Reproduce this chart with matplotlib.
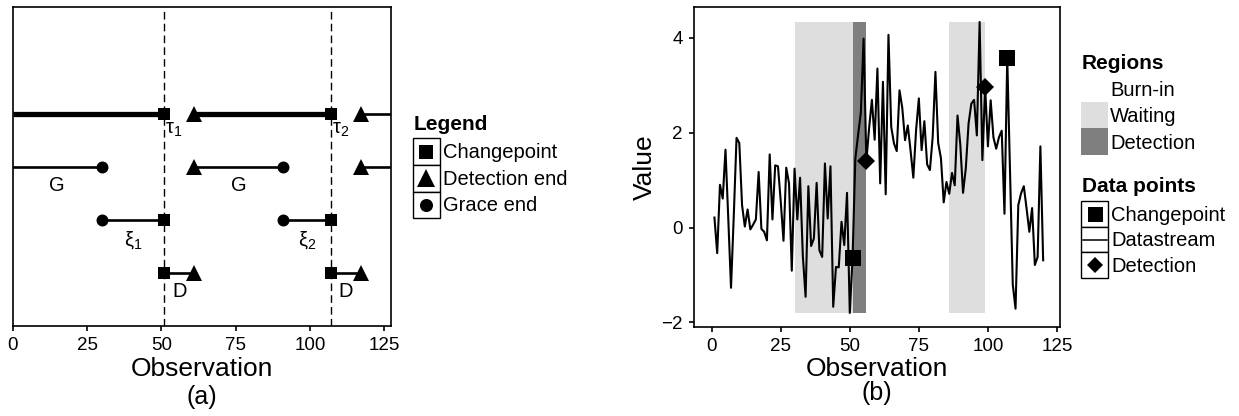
import numpy as np
import matplotlib
matplotlib.use("Agg")
import matplotlib.pyplot as plt
from matplotlib.patches import Rectangle

plt.rcParams['font.family'] = ['Liberation Sans', 'DejaVu Sans']
plt.rcParams['mathtext.fontset'] = 'custom'
plt.rcParams['mathtext.rm'] = 'Liberation Sans'
plt.rcParams['mathtext.it'] = 'Liberation Sans'

# ---- panel (a): schematic of changepoints / grace / detection ----
changepoints = [51, 107]
grace_ends = [30, 91]
detection_ends = [61, 117]
a_xmax = 127.1
row_burn, row_grace, row_xi, row_det = 4, 3, 2, 1

# ---- panel (b): the datastream ----
values = [0.21, -0.54, 0.90, 0.61, 1.64, 0.20, -1.27, 0.25, 1.89, 1.78,
          0.47, 0.02, 0.38, -0.04, 0.06, 0.17, 1.17, -0.03, -0.09, -0.27,
          1.54, 0.17, 1.31, 1.29, 0.55, -0.28, 1.26, 0.93, -0.91, 1.24,
          0.17, 1.05, -0.60, -1.46, 0.87, -0.39, -0.23, 0.94, -0.48, -0.62,
          1.35, 0.19, 1.29, -1.67, -0.83, -0.84, 0.12, -0.37, 0.73, -1.80,
          -0.65, 1.45, 1.95, 2.42, 3.98, 1.40, 2.10, 2.69, 1.85, 3.35,
          0.93, 3.07, 0.70, 4.06, 2.12, 1.77, 1.61, 2.89, 2.52, 1.84,
          2.15, 1.62, 1.05, 2.05, 2.72, 1.63, 2.24, 1.33, 1.21, 1.90,
          3.28, 1.78, 1.46, 0.53, 0.96, 0.71, 1.15, 0.89, 2.36, 1.75,
          0.73, 1.25, 2.19, 2.61, 2.69, 1.94, 4.33, 1.42, 2.97, 1.71,
          2.68, 1.90, 1.66, 1.90, 2.04, 0.29, 3.57, 1.20, -1.20, -1.71,
          0.47, 0.72, 0.87, 0.40, -0.09, 0.41, -0.79, -0.62, 1.71, -0.69]
obs = np.arange(1, len(values) + 1)
b_changepoints = [51, 107]
b_detections = [56, 99]
waiting = [(30, 51), (86, 99)]
detecting = [(51, 56)]

col_wait = '#dedede'
col_det = '#7f7f7f'

W, H = 1239, 416
fig = plt.figure(figsize=(W / 100, H / 100), dpi=100)


def frac(x0, y0, x1, y1):
    # pixel box (top-left origin) -> figure fraction rect
    return [x0 / W, 1 - y1 / H, (x1 - x0) / W, (y1 - y0) / H]


def style_axes(ax):
    for s in ax.spines.values():
        s.set_linewidth(1.2)
    ax.tick_params(direction='out', length=3.6, width=1.2, labelsize=13.5, pad=4.5)


# ================= panel a =================
axa = fig.add_axes(frac(12.7, 7.3, 390.7, 326))
style_axes(axa)
axa.set_xlim(0, a_xmax)
axa.set_ylim(0, 6)
axa.set_yticks([])
axa.set_xticks([0, 25, 50, 75, 100, 125])

for cp in changepoints:
    axa.axvline(cp, color='black', lw=1.0, ls=(0, (5.5, 3)), zorder=1)

ms_sq, ms_tri, ms_circ = 8.6, 11.5, 8.6
thin, thick = 1.9, 3.8
lab_off = 0.17

# row 1: burn-in / waiting (thick) between detections and changepoints
axa.plot([0, changepoints[0]], [row_burn] * 2, color='black', lw=thick, solid_capstyle='butt')
axa.plot([detection_ends[0], changepoints[1]], [row_burn] * 2, color='black', lw=thick, solid_capstyle='butt')
axa.plot([detection_ends[1], a_xmax], [row_burn] * 2, color='black', lw=thin, solid_capstyle='butt')
axa.plot(changepoints, [row_burn] * 2, 's', color='black', ms=ms_sq, mew=0)
axa.plot(detection_ends, [row_burn] * 2, '^', color='black', ms=ms_tri, mew=0)
for cp, lab in zip(changepoints, [r'$\mathregular{\tau_1}$', r'$\mathregular{\tau_2}$']):
    axa.text(cp + 0.3, row_burn - 0.12, lab, ha='left', va='top', fontsize=14.5)

# row 2: grace periods
axa.plot([0, grace_ends[0]], [row_grace] * 2, color='black', lw=thin)
axa.plot([detection_ends[0], grace_ends[1]], [row_grace] * 2, color='black', lw=thin)
axa.plot([detection_ends[1], a_xmax], [row_grace] * 2, color='black', lw=thin, solid_capstyle='butt')
axa.plot(grace_ends, [row_grace] * 2, 'o', color='black', ms=ms_circ, mew=0)
axa.plot(detection_ends, [row_grace] * 2, '^', color='black', ms=ms_tri, mew=0)
axa.text(grace_ends[0] / 2, row_grace - lab_off, 'G', ha='center', va='top', fontsize=14.5)
axa.text((detection_ends[0] + grace_ends[1]) / 2, row_grace - lab_off, 'G', ha='center', va='top', fontsize=14.5)

# row 3: xi (grace end to changepoint)
for g, cp, lab in zip(grace_ends, changepoints, [r'$\mathregular{\xi_1}$', r'$\mathregular{\xi_2}$']):
    axa.plot([g, cp], [row_xi] * 2, color='black', lw=thin)
    axa.text((g + cp) / 2, row_xi - lab_off, lab, ha='center', va='top', fontsize=14.5)
axa.plot(grace_ends, [row_xi] * 2, 'o', color='black', ms=ms_circ, mew=0)
axa.plot(changepoints, [row_xi] * 2, 's', color='black', ms=ms_sq, mew=0)

# row 4: detection delay
for cp, d in zip(changepoints, detection_ends):
    axa.plot([cp, d], [row_det] * 2, color='black', lw=thin)
    axa.text((cp + d) / 2, row_det - lab_off, 'D', ha='center', va='top', fontsize=14.5)
axa.plot(changepoints, [row_det] * 2, 's', color='black', ms=ms_sq, mew=0)
axa.plot(detection_ends, [row_det] * 2, '^', color='black', ms=ms_tri, mew=0)

fig.text(201.7 / W, 1 - 369.3 / H, 'Observation', ha='center', va='center', fontsize=19)
fig.text(201.7 / W, 1 - 396.7 / H, '(a)', ha='center', va='center', fontsize=18)

# ================= panel b =================
axb = fig.add_axes(frac(694, 7.3, 1060, 326.7))
style_axes(axb)
vals = np.array(values)
lo, hi = vals.min(), vals.max()
for x0, x1 in waiting:
    axb.fill_between([x0, x1], lo, hi, color=col_wait, lw=0, zorder=0)
for x0, x1 in detecting:
    axb.fill_between([x0, x1], lo, hi, color=col_det, lw=0, zorder=0)
axb.plot(obs, vals, color='black', lw=1.5, zorder=2)
axb.plot(b_changepoints, vals[np.array(b_changepoints) - 1], 's', color='black', ms=12, mew=0, zorder=3)
axb.plot(b_detections, vals[np.array(b_detections) - 1], 'D', color='black', ms=9.3, mew=0, zorder=3)
axb.set_xlim(-6.4, 126.1)
axb.set_ylim(-2.09, 4.64)
axb.set_xticks([0, 25, 50, 75, 100, 125])
axb.set_yticks([-2, 0, 2, 4])

fig.text(877 / W, 1 - 369.3 / H, 'Observation', ha='center', va='center', fontsize=19)
fig.text(877 / W, 1 - 393.3 / H, '(b)', ha='center', va='center', fontsize=18)
fig.text(645 / W, 1 - 167 / H, 'Value', ha='center', va='center', rotation=90, fontsize=19)

# ================= legends (drawn in pixel space) =================
ov = fig.add_axes([0, 0, 1, 1], zorder=5)
ov.set_xlim(0, W)
ov.set_ylim(H, 0)
ov.axis('off')
ov.patch.set_alpha(0)

# legend a
ov.text(414, 125, 'Legend', fontsize=15, fontweight='bold', va='center', ha='left')
a_keys = [('s', 9.4, 'Changepoint'), ('^', 13, 'Detection end'), ('o', 9.4, 'Grace end')]
ky = [138.3, 165, 191.7, 218.3]
for i, (m, sz, lab) in enumerate(a_keys):
    ov.add_patch(Rectangle((412.7, ky[i]), 27.3, ky[i + 1] - ky[i], fc='white', ec='black', lw=1.0))
    ov.plot([426.3], [(ky[i] + ky[i + 1]) / 2], m, color='black', ms=sz, mew=0)
    ov.text(443.3, (ky[i] + ky[i + 1]) / 2 + 0.8, lab, fontsize=14.5, va='center', ha='left')

# legend b: regions
ov.text(1081.7, 63.3, 'Regions', fontsize=15, fontweight='bold', va='center', ha='left')
r_keys = [('white', 'Burn-in'), (col_wait, 'Waiting'), (col_det, 'Detection')]
ry = [75, 101.7, 128.3, 155]
for i, (c, lab) in enumerate(r_keys):
    ov.add_patch(Rectangle((1081, ry[i]), 27.3, ry[i + 1] - ry[i], fc=c, ec='none'))
    ov.text(1110, (ry[i] + ry[i + 1]) / 2 + 2, lab, fontsize=14.5, va='center', ha='left')

# legend b: data points
ov.text(1081.7, 186.7, 'Data points', fontsize=15, fontweight='bold', va='center', ha='left')
d_keys = ['Changepoint', 'Datastream', 'Detection']
dy = [201, 226.7, 252.3, 278.3]
for i, lab in enumerate(d_keys):
    ov.add_patch(Rectangle((1081, dy[i]), 27.3, dy[i + 1] - dy[i], fc='white', ec='black', lw=1.0))
    ov.text(1111, (dy[i] + dy[i + 1]) / 2 + 1.5, lab, fontsize=14.5, va='center', ha='left')
cy = [(dy[i] + dy[i + 1]) / 2 for i in range(3)]
ov.plot([1094.7], [cy[0]], 's', color='black', ms=10.8, mew=0)
ov.plot([1083, 1106.5], [cy[1]] * 2, color='black', lw=1.1)
ov.plot([1094.7], [cy[2]], 'D', color='black', ms=8.5, mew=0)

fig.savefig('out.png', dpi=100)
